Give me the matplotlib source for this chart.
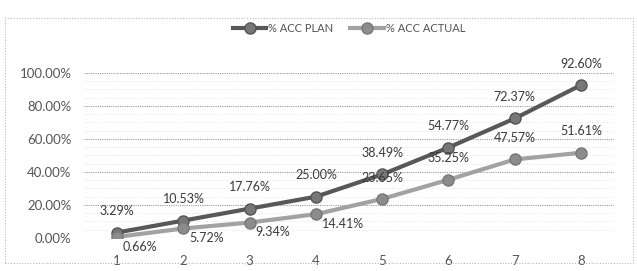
import matplotlib.pyplot as plt
import matplotlib as mpl
from matplotlib.patches import Rectangle
from matplotlib.ticker import MultipleLocator, PercentFormatter

mpl.rcParams['font.family'] = ['Lato', 'DejaVu Sans']

periods = [1, 2, 3, 4, 5, 6, 7, 8]
acc_plan = [3.29, 10.53, 17.76, 25.00, 38.49, 54.77, 72.37, 92.60]
acc_actual = [0.66, 5.72, 9.34, 14.41, 23.65, 35.25, 47.57, 51.61]
series_names = ['% ACC PLAN', '% ACC ACTUAL']

fig = plt.figure(figsize=(6.37, 2.71), dpi=100)
ax = fig.add_axes([0.132, 0.122, 0.832, 0.609])

# outer chart border (dotted)
fig.patches.append(Rectangle((0.008, 0.03), 0.985, 0.905, transform=fig.transFigure,
                             fill=False, ec='#b8b8b8', lw=0.8, ls=(0, (1, 1.5))))

ax.plot(periods, acc_plan, color='#585858', lw=3, marker='o', ms=8,
        mfc='#777777', mec='#555555', label=series_names[0], zorder=3)
ax.plot(periods, acc_actual, color='#a2a2a2', lw=3, marker='o', ms=8,
        mfc='#8c8c8c', mec='#777777', label=series_names[1], zorder=3)

# data labels: plan above; actual below-right for the first half, above afterwards
for x, v in zip(periods, acc_plan):
    ax.annotate(f'{v:.2f}%', (x, v), xytext=(0, 11), textcoords='offset points',
                ha='center', va='bottom', fontsize=9, color='#3a3a3a')
for x, v in zip(periods, acc_actual):
    if x <= 4:
        ax.annotate(f'{v:.2f}%', (x, v), xytext=(4, -7), textcoords='offset points',
                    ha='left', va='center', fontsize=9, color='#3a3a3a')
    else:
        ax.annotate(f'{v:.2f}%', (x, v), xytext=(0, 11), textcoords='offset points',
                    ha='center', va='bottom', fontsize=9, color='#3a3a3a')

ax.set_xlim(0.5, 8.5)
ax.set_ylim(0, 100)
ax.set_xticks(periods)
ax.yaxis.set_major_locator(MultipleLocator(20))
ax.yaxis.set_minor_locator(MultipleLocator(5))
ax.yaxis.set_major_formatter(PercentFormatter(decimals=2))
ax.grid(axis='y', which='major', color='#9a9a9a', lw=0.8, ls=(0, (1, 1)))
ax.grid(axis='y', which='minor', color='#dddddd', lw=0.6, ls=(0, (1, 2)))
ax.set_axisbelow(True)
for s in ax.spines.values():
    s.set_visible(False)
ax.tick_params(axis='both', which='both', length=0, labelsize=9.5, colors='#555555')
ax.tick_params(axis='y', pad=9)
ax.tick_params(axis='x', pad=12)

ax.legend(loc='center', bbox_to_anchor=(0.5, 1.27), ncol=2, frameon=False,
          fontsize=8, handlelength=3, columnspacing=1.5, handletextpad=0.2,
          labelcolor='#555555')

fig.savefig('out.png', dpi=100, facecolor='white')
